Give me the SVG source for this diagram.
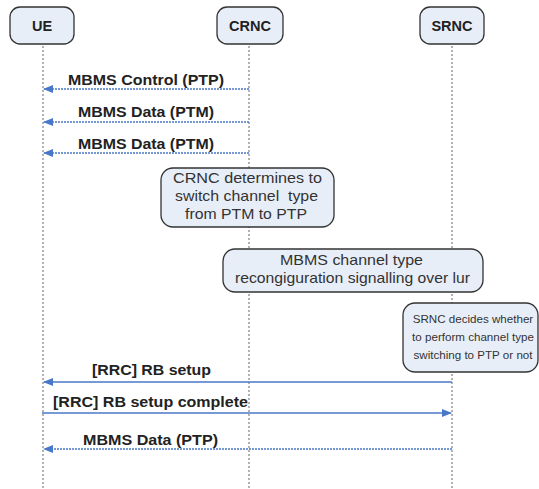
<svg xmlns="http://www.w3.org/2000/svg" width="539" height="489" viewBox="0 0 539 489">
<style>
.node{fill:#e8eef8;stroke:#333;stroke-width:1.3}
.nl{font-family:"Liberation Sans",Arial,sans-serif;font-weight:bold;font-size:14.5px;fill:#222;text-anchor:middle}
.life{stroke:#999;stroke-width:1.5;stroke-dasharray:2,2;fill:none}
.msg{stroke:#4a78c8;stroke-width:1.3;fill:none}
.dot{stroke-dasharray:2,1}
.ml{font-family:"Liberation Sans",Arial,sans-serif;font-weight:bold;font-size:14px;fill:#222;text-anchor:middle}
.bt{font-family:"Liberation Sans",Arial,sans-serif;font-size:14.5px;fill:#333;text-anchor:middle;white-space:pre}
.bs{font-size:11.6px}
</style>
<defs>
<marker id="ah" markerWidth="10" markerHeight="8" refX="9" refY="4" orient="auto" markerUnits="userSpaceOnUse">
<path d="M0,0 L10,4 L0,8 Z" fill="#4a78c8"/>
</marker>
</defs>
<g id="lifelines">
<line class="life" x1="43" y1="46" x2="43" y2="489"/>
<line class="life" x1="249" y1="46" x2="249" y2="489"/>
<line class="life" x1="452" y1="46" x2="452" y2="489"/>
</g>
<g id="UE"><rect class="node" x="10" y="7" width="64" height="37" rx="10"/><text class="nl" x="42" y="31">UE</text></g>
<g id="CRNC"><rect class="node" x="217" y="7" width="66" height="37" rx="10"/><text class="nl" x="250" y="31">CRNC</text></g>
<g id="SRNC"><rect class="node" x="420" y="7" width="64" height="37" rx="10"/><text class="nl" x="452" y="31">SRNC</text></g>
<g id="connectors">
<line class="msg dot" x1="249" y1="89" x2="44" y2="89" marker-end="url(#ah)"/>
<line class="msg dot" x1="249" y1="122" x2="44" y2="122" marker-end="url(#ah)"/>
<line class="msg dot" x1="249" y1="153" x2="44" y2="153" marker-end="url(#ah)"/>
<line class="msg" x1="452" y1="382" x2="44" y2="382" marker-end="url(#ah)"/>
<line class="msg" x1="42" y1="413" x2="451" y2="413" marker-end="url(#ah)"/>
<line class="msg dot" x1="452" y1="449" x2="44" y2="449" marker-end="url(#ah)"/>
</g>
<g id="labels">
<text class="ml" x="146" y="85" textLength="156" lengthAdjust="spacingAndGlyphs">MBMS Control (PTP)</text>
<text class="ml" x="146" y="117" textLength="136" lengthAdjust="spacingAndGlyphs">MBMS Data (PTM)</text>
<text class="ml" x="146" y="149" textLength="136" lengthAdjust="spacingAndGlyphs">MBMS Data (PTM)</text>
<text class="ml" x="151.5" y="375" textLength="119" lengthAdjust="spacingAndGlyphs">[RRC] RB setup</text>
<text class="ml" x="150.5" y="407" textLength="195" lengthAdjust="spacingAndGlyphs">[RRC] RB setup complete</text>
<text class="ml" x="150.5" y="445" textLength="135" lengthAdjust="spacingAndGlyphs">MBMS Data (PTP)</text>
</g>
<g id="crnc-decision"><rect class="node" x="161" y="168" width="173" height="59" rx="12"/>
<text class="bt" x="247.5" y="183" textLength="149" lengthAdjust="spacingAndGlyphs">CRNC determines to</text>
<text class="bt" x="246.5" y="201" textLength="143" lengthAdjust="spacingAndGlyphs">switch channel  type</text>
<text class="bt" x="246" y="219" textLength="122" lengthAdjust="spacingAndGlyphs">from PTM to PTP</text></g>
<g id="reconfig"><rect class="node" x="223" y="249" width="260" height="43" rx="12"/>
<text class="bt" x="351.5" y="265" textLength="143" lengthAdjust="spacingAndGlyphs">MBMS channel type</text>
<text class="bt" x="352.5" y="283" textLength="235" lengthAdjust="spacingAndGlyphs">recongiguration signalling over lur</text></g>
<g id="srnc-decision"><rect class="node" x="403" y="303" width="135" height="69" rx="12"/>
<text class="bt bs" x="473" y="323">SRNC decides whether</text>
<text class="bt bs" x="473" y="341">to perform channel type</text>
<text class="bt bs" x="473" y="359">switching to PTP or not</text></g>
</svg>
